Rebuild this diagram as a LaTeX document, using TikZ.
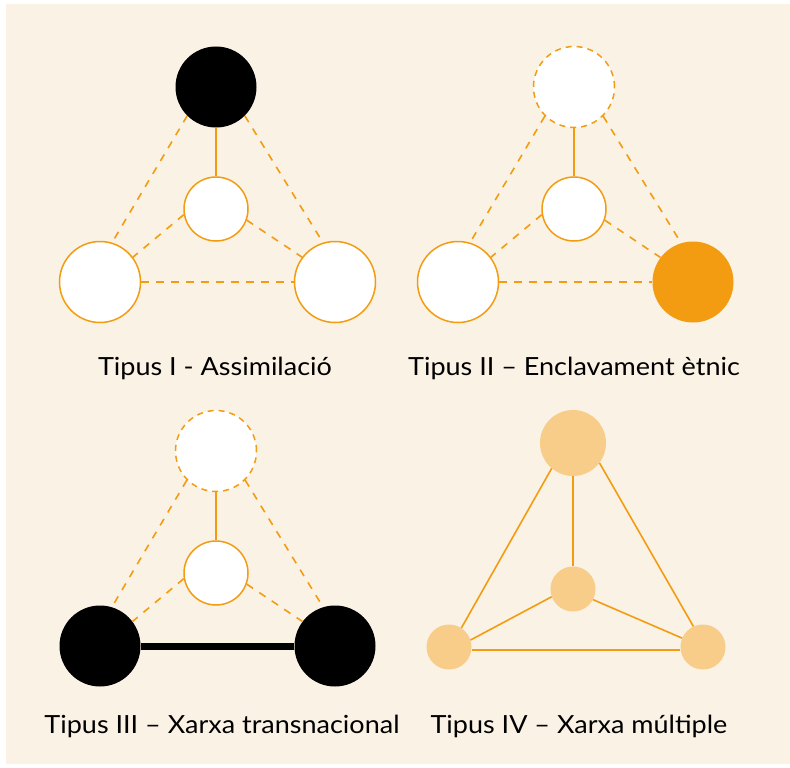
\documentclass[tikz,border=0pt]{standalone}
\usepackage{fontspec}
\setmainfont{Lato}[FakeStretch=1.08]
\definecolor{amber}{HTML}{F39C12}
\definecolor{pale}{HTML}{F8CD8A}
\definecolor{sand}{HTML}{FAF2E5}

\begin{document}
\begin{tikzpicture}[x=1pt,y=-1pt]
        \tikzset{
        big/.style={circle, inner sep=0pt, minimum size=81pt},
        small/.style={circle, inner sep=0pt, minimum size=64pt},
        open/.style={fill=white, draw=amber, line width=1.5pt},
        ghost/.style={open, dash pattern=on 6pt off 5pt},
        dark/.style={fill=black},
        hub/.style={fill=amber},
        soft/.style={fill=pale},
        tie/.style={-, amber, line width=1.6pt},
        weak/.style={tie, dash pattern=on 7.5pt off 7.5pt},
        bond/.style={-, black, line width=7pt},
        caption/.style={anchor=base, font=\fontsize{25}{29}\selectfont}
        }
        \useasboundingbox (0,0) rectangle (790,768);
        \fill[sand] (6,4) rectangle (790,764);

        % Tipus I
        \node[big,dark] (top1) at (216,87) {};
        \node[small,open] (mid1) at (216,209) {};
        \node[big,open] (left1) at (100,282) {};
        \node[big,open] (right1) at (335,282) {};
        \draw[tie] (top1) -- (mid1);
        \draw[weak] (top1.225) -- (left1.73);
        \draw[weak] (top1.315) -- (right1.107);
        \draw[weak] (mid1.190) -- (left1.37);
        \draw[weak] (mid1.340) -- (right1.143);
        \draw[weak] (left1) -- (right1);
        \node[caption] (cap1) at (215,375) {Tipus I - Assimilació};

        % Tipus II
        \node[big,ghost] (top2) at (574,87) {};
        \node[small,open] (mid2) at (574,209) {};
        \node[big,open] (left2) at (458,282) {};
        \node[big,hub] (right2) at (693,282) {};
        \draw[tie] (top2) -- (mid2);
        \draw[weak] (top2.225) -- (left2.73);
        \draw[weak] (top2.315) -- (right2.107);
        \draw[weak] (mid2.190) -- (left2.37);
        \draw[weak] (mid2.340) -- (right2.143);
        \draw[weak] (left2) -- (right2);
        \node[caption] (cap2) at (574,375) {Tipus II – Enclavament ètnic};

        % Tipus III
        \node[big,ghost] (top3) at (216,451) {};
        \node[small,open] (mid3) at (216,573) {};
        \node[big,dark] (left3) at (100,646) {};
        \node[big,dark] (right3) at (335,646) {};
        \draw[tie] (top3) -- (mid3);
        \draw[weak] (top3.225) -- (left3.73);
        \draw[weak] (top3.315) -- (right3.107);
        \draw[weak] (mid3.190) -- (left3.37);
        \draw[weak] (mid3.340) -- (right3.143);
        \draw[bond] (left3) -- (right3);
        \node[caption] (cap3) at (222,733) {Tipus III – Xarxa transnacional};

        % Tipus IV
        \node[circle,inner sep=0pt,minimum size=66pt,soft] (top4) at (573,443) {};
        \node[circle,inner sep=0pt,minimum size=45pt,soft] (mid4) at (573,589) {};
        \node[circle,inner sep=0pt,minimum size=45pt,soft] (left4) at (449,647) {};
        \node[circle,inner sep=0pt,minimum size=45pt,soft] (right4) at (703,647) {};
        \draw[tie] (top4) -- (mid4);
        \draw[tie] (top4.230) -- (left4.57);
        \draw[tie] (top4.323) -- (right4.115);
        \draw[tie] (mid4.200) -- (left4.18);
        \draw[tie] (mid4.332) -- (right4.157);
        \draw[tie] (left4.-7) -- (right4.187);
        \node[caption] (cap4) at (579,733) {Tipus IV – Xarxa múltiple};
\end{tikzpicture}
\end{document}
